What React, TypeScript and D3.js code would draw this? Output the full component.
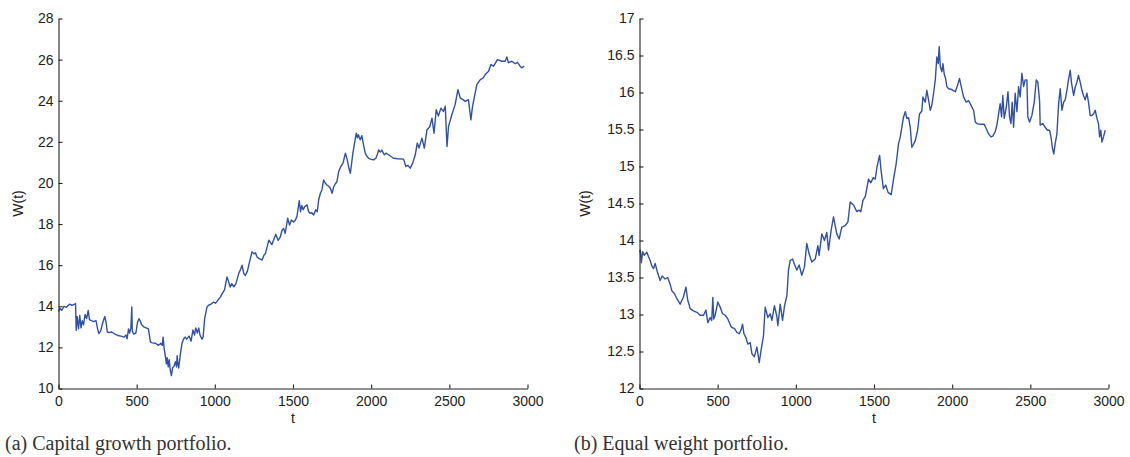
import React, { useEffect, useRef } from 'react';
import * as d3 from 'd3';

// W(t), [t, value]
const growthSeries: [number, number][] = [
  [0, 13.75], [10, 13.9], [20, 13.8], [35, 14.0], [50, 13.95], [70, 14.1], [90, 14.05], [109, 14.13],
  [113, 12.83], [120, 13.5], [128, 12.9], [136, 13.55], [144, 12.95], [152, 13.3], [160, 13.1], [170, 13.6],
  [180, 13.4], [190, 13.8], [198, 13.35], [210, 13.3], [225, 13.25], [240, 13.3], [250, 12.9], [258, 12.67],
  [270, 12.8], [283, 13.2], [296, 13.5], [305, 13.2], [312, 12.75], [325, 12.72], [340, 12.75], [360, 12.65],
  [380, 12.58], [400, 12.55], [420, 12.5], [432, 12.6], [439, 12.42], [448, 12.9], [455, 12.7], [463, 12.95],
  [469, 13.97], [472, 12.8], [480, 12.65], [495, 12.7], [505, 13.2], [514, 13.4], [522, 13.3], [532, 13.1],
  [545, 13.0], [560, 12.95], [575, 12.9], [588, 12.26], [600, 12.22], [620, 12.2], [640, 12.1], [655, 12.2],
  [664, 12.1], [669, 12.5], [675, 12.0], [683, 11.6], [690, 11.2], [695, 11.5], [702, 11.05], [708, 11.4],
  [715, 10.9], [722, 10.63], [730, 11.0], [740, 11.1], [748, 11.3], [755, 11.05], [759, 11.6], [764, 11.2],
  [769, 11.0], [780, 11.7], [790, 12.2], [801, 12.42], [810, 12.5], [820, 12.4], [835, 12.55], [848, 12.3],
  [860, 12.85], [870, 12.6], [878, 12.95], [888, 12.7], [897, 12.95], [905, 12.6], [918, 12.4], [925, 12.5],
  [935, 13.4], [950, 13.97], [960, 14.05], [975, 14.1], [990, 14.2], [1005, 14.15], [1020, 14.3], [1036, 14.46],
  [1050, 14.65], [1062, 14.8], [1078, 15.43], [1088, 15.2], [1098, 14.94], [1108, 15.1], [1122, 14.95], [1135, 15.1],
  [1153, 15.6], [1165, 15.8], [1174, 16.0], [1185, 15.6], [1195, 15.5], [1208, 15.7], [1220, 16.1], [1238, 16.65],
  [1250, 16.55], [1260, 16.6], [1270, 16.4], [1282, 16.33], [1302, 16.25], [1315, 16.5], [1324, 16.57], [1335, 16.9],
  [1345, 17.22], [1365, 17.0], [1390, 17.5], [1405, 17.2], [1419, 17.38], [1430, 17.7], [1440, 17.79], [1450, 17.55],
  [1466, 18.28], [1478, 17.95], [1490, 18.2], [1504, 18.1], [1515, 18.2], [1525, 18.36], [1540, 19.14], [1548, 18.6],
  [1556, 18.9], [1565, 18.7], [1575, 18.85], [1590, 18.93], [1600, 18.6], [1610, 18.52], [1620, 18.55], [1632, 18.44],
  [1645, 18.7], [1655, 18.6], [1664, 19.17], [1675, 19.5], [1685, 19.66], [1696, 20.15], [1706, 20.0], [1717, 19.9],
  [1727, 19.85], [1739, 19.74], [1750, 19.5], [1760, 19.8], [1770, 19.95], [1781, 20.06], [1792, 20.55], [1806, 20.8],
  [1820, 20.96], [1835, 21.45], [1848, 21.1], [1858, 20.7], [1867, 20.47], [1883, 21.45], [1895, 22.0], [1905, 22.42],
  [1912, 22.2], [1918, 22.35], [1930, 22.1], [1940, 22.3], [1950, 21.9], [1962, 21.45], [1972, 21.3], [1984, 21.2],
  [2000, 21.15], [2016, 21.12], [2030, 21.2], [2040, 21.4], [2048, 21.61], [2058, 21.5], [2068, 21.6], [2084, 21.37],
  [2095, 21.45], [2111, 21.37], [2125, 21.3], [2143, 21.2], [2170, 21.18], [2207, 21.16], [2222, 20.8], [2235, 20.85],
  [2250, 20.72], [2265, 20.95], [2282, 21.37], [2295, 21.94], [2306, 21.7], [2325, 22.18], [2340, 21.7], [2357, 22.59],
  [2374, 22.72], [2389, 23.15], [2402, 22.42], [2416, 23.56], [2430, 23.25], [2446, 23.64], [2462, 23.48], [2474, 23.73],
  [2485, 21.77], [2495, 22.75], [2516, 23.32], [2537, 23.81], [2555, 24.54], [2570, 24.13], [2587, 24.05], [2602, 23.97],
  [2622, 24.05], [2638, 23.07], [2648, 23.7], [2661, 24.21], [2676, 24.78], [2698, 25.03], [2715, 25.1], [2730, 25.27],
  [2751, 25.43], [2766, 25.76], [2783, 25.68], [2808, 26.0], [2836, 25.92], [2857, 25.92], [2868, 26.13], [2878, 25.85],
  [2900, 25.92], [2921, 25.8], [2936, 25.87], [2953, 25.68], [2963, 25.6], [2979, 25.68],
];

const equalSeries: [number, number][] = [
  [0, 13.85], [5, 13.87], [12, 13.7], [20, 13.85], [30, 13.8], [47, 13.84], [58, 13.78], [68, 13.73],
  [80, 13.65], [90, 13.62], [100, 13.69], [115, 13.57], [132, 13.46], [145, 13.52], [164, 13.48], [180, 13.5],
  [196, 13.41], [207, 13.32], [224, 13.28], [240, 13.21], [260, 13.14], [280, 13.23], [297, 13.37], [308, 13.2],
  [324, 13.08], [345, 13.05], [367, 13.03], [388, 12.99], [410, 12.99], [425, 13.06], [437, 12.89], [452, 12.96],
  [462, 12.92], [469, 13.23], [475, 12.94], [484, 12.99], [501, 13.17], [516, 13.1], [531, 13.01], [548, 12.99],
  [565, 12.94], [587, 12.83], [608, 12.81], [623, 12.76], [638, 12.74], [651, 12.8], [659, 12.87], [668, 12.74],
  [680, 12.69], [693, 12.6], [708, 12.62], [719, 12.47], [735, 12.43], [751, 12.56], [766, 12.35], [777, 12.51],
  [793, 12.71], [804, 13.1], [821, 12.96], [836, 13.01], [847, 12.92], [863, 13.12], [878, 12.98], [885, 12.85],
  [900, 13.14], [915, 12.92], [928, 13.12], [943, 13.26], [953, 13.6], [964, 13.73], [979, 13.75], [991, 13.68],
  [1006, 13.6], [1021, 13.67], [1038, 13.53], [1055, 13.64], [1070, 13.96], [1085, 13.82], [1102, 13.71], [1124, 13.75],
  [1141, 13.93], [1149, 13.8], [1166, 14.09], [1183, 14.0], [1198, 14.11], [1209, 13.87], [1226, 14.14], [1241, 14.32],
  [1262, 14.09], [1277, 14.02], [1294, 14.18], [1316, 14.2], [1333, 14.25], [1348, 14.52], [1369, 14.48], [1390, 14.39],
  [1405, 14.41], [1416, 14.39], [1429, 14.54], [1445, 14.6], [1465, 14.83], [1480, 14.78], [1495, 14.85], [1508, 14.83],
  [1519, 14.99], [1530, 15.1], [1536, 15.15], [1545, 14.95], [1560, 14.7], [1575, 14.75], [1590, 14.65], [1610, 14.62],
  [1625, 14.83], [1642, 15.04], [1657, 15.31], [1668, 15.4], [1678, 15.53], [1689, 15.67], [1700, 15.74], [1710, 15.65],
  [1721, 15.66], [1732, 15.53], [1742, 15.26], [1753, 15.3], [1764, 15.35], [1779, 15.49], [1791, 15.71], [1806, 15.75],
  [1813, 15.94], [1828, 15.87], [1838, 16.03], [1849, 15.9], [1860, 15.76], [1870, 15.83], [1881, 15.99], [1892, 16.17],
  [1902, 16.48], [1911, 16.39], [1917, 16.62], [1924, 16.35], [1934, 16.28], [1941, 16.39], [1949, 16.25], [1958, 16.19],
  [1966, 16.08], [1977, 16.05], [1998, 16.04], [2020, 16.01], [2035, 16.1], [2047, 16.19], [2058, 16.08], [2073, 15.94],
  [2090, 15.87], [2105, 15.89], [2120, 15.83], [2137, 15.76], [2148, 15.6], [2158, 15.58], [2180, 15.57], [2205, 15.57],
  [2218, 15.51], [2233, 15.44], [2248, 15.4], [2260, 15.41], [2275, 15.47], [2286, 15.56], [2297, 15.71], [2307, 15.85],
  [2316, 15.67], [2324, 15.96], [2333, 15.65], [2346, 15.8], [2357, 16.01], [2367, 15.67], [2376, 15.58], [2384, 15.87],
  [2393, 15.53], [2403, 15.99], [2414, 15.74], [2425, 16.08], [2435, 15.94], [2446, 16.26], [2457, 16.08], [2467, 16.17],
  [2478, 16.17], [2484, 15.67], [2495, 15.6], [2510, 15.69], [2525, 15.87], [2538, 16.17], [2548, 16.14], [2559, 15.89],
  [2563, 15.56], [2580, 15.58], [2595, 15.53], [2610, 15.49], [2623, 15.49], [2632, 15.4], [2642, 15.24], [2650, 15.17],
  [2659, 15.31], [2670, 15.44], [2681, 15.85], [2691, 16.05], [2702, 15.76], [2713, 15.87], [2723, 15.9], [2734, 16.03],
  [2744, 16.17], [2755, 16.3], [2764, 16.12], [2777, 15.96], [2787, 16.07], [2798, 16.14], [2808, 16.23], [2819, 16.14],
  [2830, 16.03], [2840, 15.96], [2851, 15.9], [2862, 15.99], [2872, 15.87], [2883, 15.69], [2894, 15.69], [2904, 15.71],
  [2915, 15.76], [2926, 15.65], [2936, 15.58], [2943, 15.4], [2951, 15.49], [2958, 15.33], [2968, 15.4], [2979, 15.49],
];

const tTicks = [0, 500, 1000, 1500, 2000, 2500, 3000];
const growthTicks = [10, 12, 14, 16, 18, 20, 22, 24, 26, 28];
const equalTicks = [12, 12.5, 13, 13.5, 14, 14.5, 15, 15.5, 16, 16.5, 17];

const panels = [
  { data: growthSeries, yDomain: [10, 28], yTicks: growthTicks, left: 58.5, labelOff: 36, caption: '(a) Capital growth portfolio.', capX: 5 },
  { data: equalSeries, yDomain: [12, 17], yTicks: equalTicks, left: 639.5, labelOff: 50, caption: '(b) Equal weight portfolio.', capX: 574 },
];

const plotW = 469;
const top = 18.5;
const bottom = 388.5;
const tickFont = '"Liberation Sans", Arial, sans-serif';

const App = () => {
  const svgRef = useRef<SVGSVGElement>(null);

  useEffect(() => {
    const svg = d3.select(svgRef.current);
    svg.selectAll('*').remove();

    panels.forEach(p => {
      const x = d3.scaleLinear().domain([0, 3000]).range([p.left, p.left + plotW]);
      const y = d3.scaleLinear().domain(p.yDomain).range([bottom, top]);

      const g = svg.append('g');

      const line = d3.line<[number, number]>()
        .x(d => x(d[0]))
        .y(d => y(d[1]));

      g.append('path')
        .datum(p.data)
        .attr('fill', 'none')
        .attr('stroke', '#3150a8')
        .attr('stroke-width', 1.4)
        .attr('stroke-linejoin', 'round')
        .attr('d', line);

      // axes, ticks pointing inwards like matlab
      const ax = g.append('g')
        .attr('transform', `translate(0,${bottom})`)
        .call(d3.axisBottom(x).tickValues(tTicks).tickSize(-4).tickSizeOuter(0).tickPadding(8).tickFormat(d3.format('d')));
      const ay = g.append('g')
        .attr('transform', `translate(${p.left},0)`)
        .call(d3.axisLeft(y).tickValues(p.yTicks).tickSize(-4).tickSizeOuter(0).tickPadding(5).tickFormat(d => String(d)));

      [ax, ay].forEach(a => {
        a.attr('font-family', tickFont).attr('font-size', 14);
        a.selectAll('path,line').attr('stroke', '#222').attr('stroke-width', 1.1);
        a.selectAll('text').attr('fill', '#222');
      });

      g.append('text')
        .attr('x', x(1500))
        .attr('y', 423)
        .attr('text-anchor', 'middle')
        .attr('font-family', tickFont)
        .attr('font-size', 14)
        .attr('fill', '#222')
        .text('t');

      g.append('text')
        .attr('transform', `translate(${p.left - p.labelOff},${(top + bottom) / 2}) rotate(-90)`)
        .attr('text-anchor', 'middle')
        .attr('font-family', tickFont)
        .attr('font-size', 14)
        .attr('fill', '#222')
        .text('W(t)');

      g.append('text')
        .attr('x', p.capX)
        .attr('y', 450)
        .attr('font-family', '"Liberation Serif", serif')
        .attr('font-size', 20)
        .attr('fill', '#333')
        .text(p.caption);
    });
  }, []);

  return (
    <div style={{ position: 'absolute', left: 0, top: 0 }}>
      <svg ref={svgRef} width={1130} height={457} style={{ display: 'block' }}></svg>
    </div>
  );
};

export default App;
